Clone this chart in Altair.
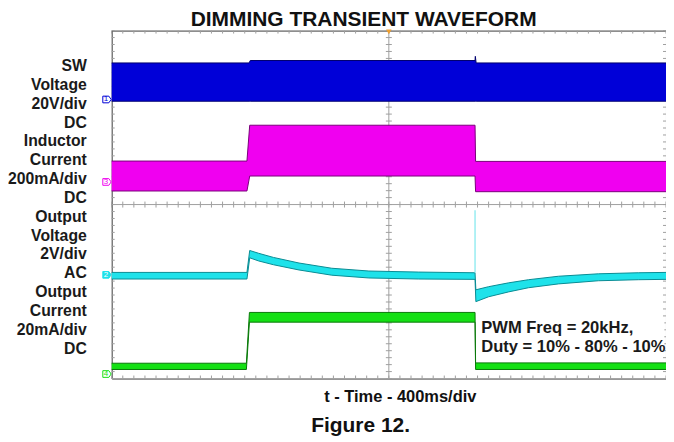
import altair as alt
import pandas as pd

# ---------------- data (scope divisions: x 0..10, y -5..5) ----------------
SW_T   = [0, 2.48, 2.50, 6.555, 6.56, 6.575, 10]
SW_TOP = [4.07, 4.07, 4.14, 4.14, 4.26, 4.07, 4.07]
SW_BOT = [2.97, 2.97, 2.97, 2.97, 2.97, 2.97, 2.97]

IND_T   = [0, 2.44, 2.49, 6.555, 6.565, 10]
IND_TOP = [1.25, 1.25, 2.28, 2.28, 1.24, 1.24]
IND_BOT = [0.39, 0.39, 0.82, 0.82, 0.37, 0.37]

OV_T   = [0, 2.44, 2.49, 2.65, 2.92, 3.38, 3.97, 4.64, 5.54, 6.555, 6.57, 6.80, 7.16, 7.52, 8.06, 8.78, 9.50, 10]
OV_TOP = [-1.95, -1.95, -1.32, -1.40, -1.52, -1.68, -1.83, -1.91, -1.94, -1.96, -2.45, -2.36, -2.25, -2.16, -2.06, -1.99, -1.96, -1.95]
OV_BOT = [-2.14, -2.14, -1.53, -1.62, -1.73, -1.88, -2.03, -2.11, -2.14, -2.15, -2.79, -2.65, -2.51, -2.39, -2.28, -2.19, -2.16, -2.15]
OV_SPIKE_T = [6.555]
OV_SPIKE_FROM = [-1.96]
OV_SPIKE_TO = [-0.16]

OC_T   = [0, 2.43, 2.485, 6.555, 6.565, 10]
OC_TOP = [-4.56, -4.56, -3.10, -3.10, -4.55, -4.55]
OC_BOT = [-4.74, -4.74, -3.38, -3.38, -4.74, -4.74]

LEFT_LABELS = ["SW", "Voltage", "20V/div", "DC",
               "Inductor", "Current", "200mA/div", "DC",
               "Output", "Voltage", "2V/div", "AC",
               "Output", "Current", "20mA/div", "DC"]
CH_NAMES = ["1", "3", "2", "4"]
CH_LEVEL = [3.02, 0.65, -2.02, -4.87]
TITLE = "DIMMING TRANSIENT WAVEFORM"
XLABEL = "t - Time - 400ms/div"
FIGURE = "Figure 12."
NOTE = ["PWM Freq = 20kHz,", "Duty = 10% - 80% - 10%"]

BLUE, BLUE_E = "#0000d8", "#00006e"
MAG, MAG_E = "#f000f0", "#7a007a"
CYAN, CYAN_E = "#1ee2ea", "#0a8c94"
GREEN, GREEN_E = "#14e014", "#0a780a"
FONT = "Liberation Sans"

PX_X = 55.6   # px per x division
PX_Y = 34.9   # px per y division

XS = alt.Scale(domain=[0, 10], nice=False, zero=False)
YS = alt.Scale(domain=[-5, 5], nice=False, zero=False)


def X(f):
    return alt.X(f, type="quantitative", scale=XS, axis=None)


def Y(f):
    return alt.Y(f, type="quantitative", scale=YS, axis=None)


# ---------------- grid ----------------
base = alt.Chart(pd.DataFrame({"x": [0, 10], "y": [-5, 5]})).mark_point(opacity=0).encode(
    x=alt.X("x:Q", scale=XS, axis=alt.Axis(values=list(range(11)), grid=True, gridDash=[1, 5.98],
                                           gridColor="#a8a8a8", labels=False, ticks=False,
                                           domain=False, title=None)),
    y=alt.Y("y:Q", scale=YS, axis=alt.Axis(values=list(range(-5, 6)), grid=True, gridDash=[1, 10.12],
                                           gridColor="#a8a8a8", labels=False, ticks=False,
                                           domain=False, title=None)),
)

XT = [round(i * 0.2, 4) for i in range(51)]
YT = [round(-5 + i * 0.2, 4) for i in range(51)]
dy = 3 / PX_Y
dx = 3 / PX_X
segs = []
for xv in XT:
    segs += [(xv, xv, 5, 5 - dy), (xv, xv, -5, -5 + dy), (xv, xv, dy, -dy)]
for yv in YT:
    segs += [(0, dx, yv, yv), (10, 10 - dx, yv, yv), (5 - dx, 5 + dx, yv, yv)]
segs += [(0, 10, 0, 0), (5, 5, -5, 5)]
tick_df = pd.DataFrame(segs, columns=["x", "x2", "y", "y2"])
ticks = alt.Chart(tick_df).mark_rule(color="#a0a0a0", strokeWidth=1).encode(
    x=X("x"), x2="x2", y=Y("y"), y2="y2")


# ---------------- waveforms ----------------
def band(t, top, bot, fill, edge):
    df = pd.DataFrame({"t": t, "top": top, "bot": bot})
    a = alt.Chart(df).mark_area(color=fill, opacity=1, interpolate="linear").encode(
        x=X("t"), y=Y("top"), y2="bot")
    l1 = alt.Chart(df).mark_line(color=edge, strokeWidth=1).encode(x=X("t"), y=Y("top"))
    l2 = alt.Chart(df).mark_line(color=edge, strokeWidth=1).encode(x=X("t"), y=Y("bot"))
    return [a, l1, l2]


layers = [base, ticks]
layers += band(SW_T, SW_TOP, SW_BOT, BLUE, BLUE_E)
layers += band(IND_T, IND_TOP, IND_BOT, MAG, MAG_E)
layers += band(OV_T, OV_TOP, OV_BOT, CYAN, CYAN_E)
layers += band(OC_T, OC_TOP, OC_BOT, GREEN, GREEN_E)

spike = alt.Chart(pd.DataFrame({"t": OV_SPIKE_T, "a": OV_SPIKE_FROM, "b": OV_SPIKE_TO})).mark_rule(
    color="#7ee8ee", strokeWidth=1.2).encode(x=X("t"), y=Y("a"), y2="b")
layers.append(spike)

# note box and text
box = alt.Chart(pd.DataFrame({"x": [6.64], "x2": [9.97], "y": [-3.25], "y2": [-4.37]})).mark_rect(
    color="white").encode(x=X("x"), x2="x2", y=Y("y"), y2="y2")
layers.append(box)
note_df = pd.DataFrame({"x": [(482.7 - 112) / PX_X] * 2,
                        "y": [(204.5 - 328.3) / PX_Y, (204.5 - 347.3) / PX_Y],
                        "text": NOTE})
layers.append(alt.Chart(note_df).mark_text(align="left", baseline="middle", font=FONT, fontWeight="bold",
                                           fontSize=16.6, color="#1a1a1a").encode(
    x=X("x"), y=Y("y"), text="text:N"))

# left labels
lab_df = pd.DataFrame({"x": [(87 - 112) / PX_X] * len(LEFT_LABELS),
                       "y": [(204.5 - (65.7 + 18.89 * i)) / PX_Y for i in range(len(LEFT_LABELS))],
                       "text": LEFT_LABELS})
layers.append(alt.Chart(lab_df).mark_text(align="right", baseline="middle", font=FONT, fontWeight="bold",
                                          fontSize=15.8, color="#1a1a1a").encode(
    x=X("x"), y=Y("y"), text="text:N"))

# title, x label, figure caption
for txt, px, py, fs in [(TITLE, 364.7, 19.5, 21), (XLABEL, 401.5, 398, 16.5), (FIGURE, 361.7, 426.7, 21)]:
    d = pd.DataFrame({"x": [(px - 112) / PX_X], "y": [(204.5 - py) / PX_Y], "text": [txt]})
    layers.append(alt.Chart(d).mark_text(align="center", baseline="middle", font=FONT, fontWeight="bold",
                                         fontSize=fs, color="#111111").encode(
        x=X("x"), y=Y("y"), text="text:N"))

# channel markers
MARK_PATH = "M -1 -0.8 L 0.45 -0.8 L 1 0 L 0.45 0.8 L -1 0.8 Z"
ch_colors = [BLUE, MAG, CYAN, GREEN]
for name, lvl, colr in zip(CH_NAMES, CH_LEVEL, ch_colors):
    d = pd.DataFrame({"x": [-0.085], "y": [lvl], "text": [name]})
    filled = name == "2"
    layers.append(alt.Chart(d).mark_point(shape=MARK_PATH, size=70, filled=filled,
                                          fill=colr if filled else "white", stroke=colr,
                                          strokeWidth=1, opacity=1).encode(x=X("x"), y=Y("y")))
    layers.append(alt.Chart(d).mark_text(fontSize=8, font=FONT, align="center", baseline="middle",
                                         color="white" if filled else colr, dx=-1).encode(
        x=X("x"), y=Y("y"), text="text:N"))

# trigger marker
layers.append(alt.Chart(pd.DataFrame({"x": [5], "y": [4.96]})).mark_point(
    shape="triangle-down", size=30, filled=True, color="#f0a030", opacity=1).encode(x=X("x"), y=Y("y")))

chart = alt.layer(*layers).properties(
    width=556, height=349,
    padding={"left": 104, "top": 22, "right": 0, "bottom": 63},
    autosize="none",
).configure_view(stroke="#3c3c3c", strokeWidth=1)

chart.save("out.html", embed_options={"renderer": "svg", "actions": False})
